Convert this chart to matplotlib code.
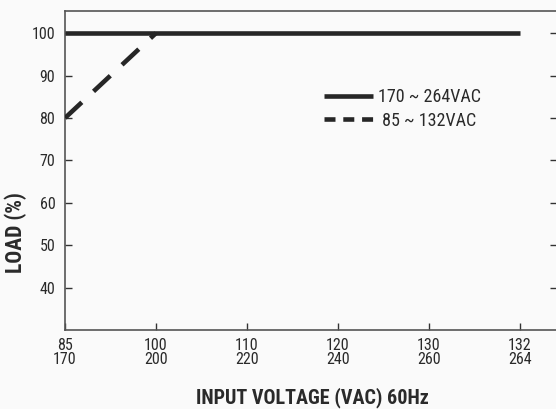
import matplotlib
matplotlib.use('Agg')
import matplotlib.pyplot as plt
from matplotlib.lines import Line2D
import numpy as np

# data
low_range = ['85', '100', '110', '120', '130', '132']
high_range = ['170', '200', '220', '240', '260', '264']
load_high = [100, 100, 100, 100, 100, 100]
load_low = [80, 100]
series_names = ['170 ~ 264VAC', ' 85 ~ 132VAC']

plt.rcParams['font.family'] = ['Roboto Condensed', 'DejaVu Sans']
text_color = '#2a2a2a'
line_color = '#262626'


def main():
    fig = plt.figure(figsize=(5.56, 4.09), dpi=100, facecolor='#fafafa')
    ax = fig.add_axes([0.117, 0.193, 0.885, 0.780])
    ax.set_facecolor('#fafafa')

    pos = np.arange(len(low_range))

    # lines
    ax.plot(pos, load_high, color=line_color, lw=3.3, solid_capstyle='butt',
            zorder=3)
    ax.plot(pos[:len(load_low)], load_low, color=line_color, lw=3.3,
            linestyle=(0, (5.0, 3.5)), zorder=3)

    # axes
    ax.set_xlim(0, 5.41)
    ax.set_ylim(30, 105.2)
    ax.set_xticks(pos)
    ax.set_xticklabels([a + '\n' + b for a, b in zip(low_range, high_range)],
                       linespacing=0.9)
    ax.set_yticks([40, 50, 60, 70, 80, 90, 100])
    ax.tick_params(axis='both', direction='in', length=5, width=1,
                   color='#333333', labelsize=11.5, labelcolor=text_color)
    ax.tick_params(axis='y', right=True, pad=7)
    ax.tick_params(axis='x', pad=6)
    for s in ax.spines.values():
        s.set_color('#555555')
        s.set_linewidth(1.2)

    # labels
    ax.set_ylabel('LOAD (%)', fontsize=15.5, fontweight='bold', color=text_color)
    ax.yaxis.set_label_coords(-0.078, 0.307)
    ax.set_xlabel('INPUT VOLTAGE (VAC) 60Hz', fontsize=14.5, fontweight='bold',
                  color=text_color)
    ax.xaxis.set_label_coords(0.502, -0.178)

    # legend
    handles = [Line2D([], [], color=line_color, lw=3.3, solid_capstyle='butt'),
               Line2D([], [], color=line_color, lw=3.3,
                      linestyle=(0, (2.4, 1.7)))]
    leg = fig.legend(handles, series_names, loc='upper left',
                     bbox_to_anchor=(0.583, 0.785), frameon=False, fontsize=13,
                     handlelength=2.7, handletextpad=0.3, labelspacing=0.31,
                     borderpad=0, borderaxespad=0)
    for t in leg.get_texts():
        t.set_color(text_color)

    fig.savefig('out.png', dpi=100, facecolor=fig.get_facecolor())


if __name__ == '__main__':
    main()
